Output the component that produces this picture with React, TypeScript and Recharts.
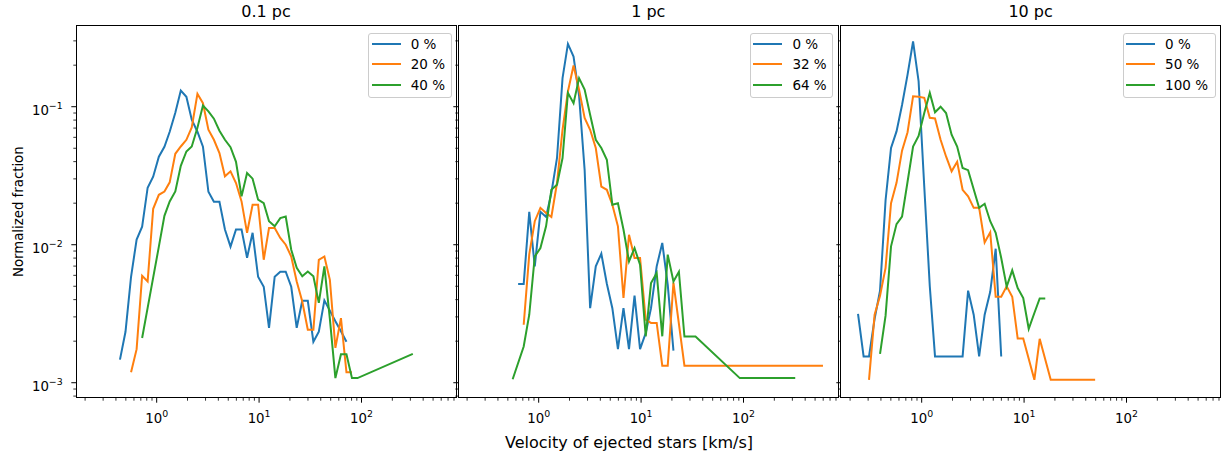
import { LineChart, Line, XAxis, YAxis, Legend } from "recharts";

const FONT = '"DejaVu Sans", sans-serif';
const COLORS = ["#1f77b4", "#ff7f0e", "#2ca02c"];

// shared log axes (sharex / sharey)
const X_DOMAIN = [0.163, 837];
const Y_DOMAIN = [7.75e-4, 0.389];
const X_TICKS = [
    0.2, 0.3, 0.4, 0.5, 0.6, 0.7, 0.8, 0.9, 1, 2, 3, 4, 5, 6, 7, 8, 9, 10,
    20, 30, 40, 50, 60, 70, 80, 90, 100, 200, 300, 400, 500, 600, 700, 800,
];
const Y_TICKS = [
    8e-4, 9e-4, 1e-3, 2e-3, 3e-3, 4e-3, 5e-3, 6e-3, 7e-3, 8e-3, 9e-3, 1e-2,
    2e-2, 3e-2, 4e-2, 5e-2, 6e-2, 7e-2, 8e-2, 9e-2, 0.1, 0.2, 0.3,
];

// 0.1 pc — bin velocities [km/s] and normalized fractions
const P1_VEL = [
    0.438, 0.496, 0.562, 0.637, 0.721, 0.816, 0.924, 1.05, 1.19, 1.34, 1.52,
    1.72, 1.95, 2.2, 2.5, 2.83, 3.2, 3.62, 4.1, 4.64, 5.26, 5.95, 6.74, 7.63,
    8.64, 9.78, 11.1, 12.5, 14.2, 16.1, 18.2, 20.6, 23.3, 26.4, 29.9, 33.9,
    38.3, 43.4, 49.1, 55.6, 63.0, 71.3, 80.7, 91.4, 317,
];
const P1_0 = [
    0.00147, 0.00234, 0.00586, 0.0109, 0.0135, 0.0259, 0.0311, 0.0434, 0.0513,
    0.0659, 0.0905, 0.131, 0.118, 0.0805, 0.0659, 0.0513, 0.0242, 0.0205,
    0.0205, 0.0129, 0.00968, 0.0129, 0.0129, 0.00805, 0.0122, 0.00586, 0.00496,
    0.0025, 0.00586, 0.00637, 0.00637, 0.00496, 0.0025, 0.00392, 0.00392,
    0.00198, 0.00234, 0.00395, 0.00333, 0.00279, 0.00236, 0.00198, null, null,
    null,
];
const P1_20 = [
    null, null, 0.00119, 0.00175, 0.00596, 0.00542, 0.0182, 0.023, 0.0243,
    0.0283, 0.0456, 0.0515, 0.0576, 0.0708, 0.124, 0.106, 0.0681, 0.0576,
    0.0462, 0.0313, 0.034, 0.028, 0.0206, 0.0122, 0.0195, 0.0195, 0.00778,
    0.0132, 0.0132, 0.0112, 0.01, 0.00822, 0.00542, 0.00388, 0.00242, 0.00242,
    0.00778, 0.00822, 0.00557, 0.00179, 0.00294, 0.00119, 0.00119, null, null,
];
const P1_40 = [
    null, null, null, null, 0.00211, 0.00349, 0.00577, 0.00968, 0.0162, 0.0206,
    0.0243, 0.0373, 0.0474, 0.0515, 0.0705, 0.102, 0.0925, 0.0819, 0.067,
    0.0576, 0.0509, 0.0399, 0.0224, 0.0331, 0.0301, 0.0212, 0.02, 0.0148,
    0.0136, 0.0156, 0.016, 0.0092, 0.0068, 0.0059, 0.0064, 0.0059, 0.00379,
    0.00696, 0.0029, 0.00108, 0.00161, 0.00161, 0.00108, 0.00108, 0.00162,
];

// 1 pc
const P2_VEL = [
    0.557, 0.63, 0.714, 0.809, 0.916, 1.04, 1.18, 1.33, 1.51, 1.71, 1.93, 2.19,
    2.48, 2.81, 3.18, 3.61, 4.09, 4.63, 5.24, 5.94, 6.73, 7.62, 8.63, 9.77,
    11.1, 12.5, 14.2, 16.1, 18.2, 20.7, 23.4, 26.5, 34.0, 92.0, 320, 597,
];
const P2_0 = [
    null, 0.00519, 0.00519, 0.0173, 0.00697, 0.0173, 0.0159, 0.0237, 0.0425,
    0.161, 0.285, 0.231, 0.12, 0.0349, 0.00347, 0.00697, 0.00861, 0.00521,
    0.00347, 0.00175, 0.00347, 0.00175, 0.00427, 0.00175, 0.00229, 0.00347,
    0.00697, 0.0103, 0.00513, 0.00171, null, null, null, null, null, null,
];
const P2_32 = [
    null, null, 0.00263, 0.0085, 0.0148, 0.0185, 0.017, 0.0159, 0.028, 0.0681,
    0.129, 0.199, 0.133, 0.0828, 0.0681, 0.0502, 0.0264, 0.025, 0.0195, 0.0136,
    0.00411, 0.0118, 0.00802, 0.00802, 0.00286, 0.00271, 0.00271, 0.00133,
    0.00133, 0.00531, null, 0.00133, null, null, null, 0.00133,
];
const P2_64 = [
    0.00106, null, 0.00183, 0.00311, 0.00822, 0.00946, 0.0136, 0.025, 0.0272,
    0.0425, 0.126, 0.106, 0.161, 0.133, 0.0875, 0.0576, 0.0502, 0.0413, 0.0195,
    0.02, 0.0129, 0.00757, 0.00946, 0.00716, 0.00217, 0.00527, 0.00623,
    0.00217, 0.00848, 0.00542, 0.00637, 0.00216, 0.00216, 0.00108, 0.00108,
    null,
];

// 10 pc
const P3_VEL = [
    0.239, 0.271, 0.306, 0.347, 0.392, 0.444, 0.502, 0.568, 0.643, 0.728,
    0.824, 0.933, 1.06, 1.2, 1.35, 1.53, 1.73, 1.96, 2.22, 2.51, 2.84, 3.22,
    3.64, 4.12, 4.67, 5.28, 5.98, 6.76, 7.66, 8.66, 9.81, 11.1, 12.6, 14.2,
    16.1, 18.2, 49.4,
];
const P3_0 = [
    0.00315, 0.00155, 0.00155, 0.0029, 0.00465, 0.021, 0.0502, 0.0662, 0.103,
    0.171, 0.297, 0.153, 0.0263, 0.005, 0.00155, 0.00155, 0.00155, 0.00155,
    0.00155, 0.00155, 0.00465, 0.00311, 0.00155, 0.00311, 0.00456, 0.00935,
    0.00155, null, null, null, null, null, null, null, null, null, null,
];
const P3_50 = [
    null, null, 0.00105, 0.00311, 0.00427, 0.0068, 0.02, 0.0281, 0.048, 0.0653,
    0.119, 0.118, 0.116, 0.0832, 0.0822, 0.0576, 0.0436, 0.034, 0.0399, 0.025,
    0.0224, 0.0185, 0.0185, 0.0104, 0.0123, 0.0042, 0.0042, 0.00499, 0.0042,
    0.00209, 0.00209, null, 0.00105, 0.00208, null, 0.00105, 0.00105,
];
const P3_100 = [
    null, null, null, null, 0.00162, 0.00306, 0.00973, 0.0141, 0.016, 0.0286,
    0.0515, 0.0614, 0.09, 0.126, 0.0912, 0.1, 0.09, 0.0627, 0.0515, 0.036,
    0.0347, 0.0252, 0.0185, 0.0198, 0.0148, 0.0122, 0.00802, 0.00497, 0.00652,
    0.00485, 0.00411, 0.00246, 0.0032, 0.00408, 0.00408, null, null,
];

const PLOT_W = 380;
const PLOT_TOP = 25.3;
const PLOT_BOTTOM = 398;
const AXIS_W = 60;

const PANELS = [
    {
        title: "0.1 pc",
        left: 76,
        vel: P1_VEL,
        series: [P1_0, P1_20, P1_40],
        labels: ["0 %", "20 %", "40 %"],
        legendLeft: 368.3,
        legendWidth: 83.4,
        yLabels: true,
    },
    {
        title: "1 pc",
        left: 458.3,
        vel: P2_VEL,
        series: [P2_0, P2_32, P2_64],
        labels: ["0 %", "32 %", "64 %"],
        legendLeft: 750,
        legendWidth: 83.3,
        yLabels: false,
    },
    {
        title: "10 pc",
        left: 840.6,
        vel: P3_VEL,
        series: [P3_0, P3_50, P3_100],
        labels: ["0 %", "50 %", "100 %"],
        legendLeft: 1122.7,
        legendWidth: 93.3,
        yLabels: false,
    },
];

const isDecade = (v: number) => {
    const lv = Math.log10(v);
    return Math.abs(lv - Math.round(lv)) < 1e-6;
};

const renderXTick = (props: any) => {
    const { x, y, payload } = props;
    const major = isDecade(payload.value);
    const e = Math.round(Math.log10(payload.value));
    return (
        <g>
            <line x1={x} x2={x} y1={y} y2={y + (major ? 4.7 : 2.7)} stroke="#000" strokeWidth={major ? 1 : 0.8} />
            {major && (
                <text x={x} y={y + 25} textAnchor="middle" fontSize={13.3} fontFamily={FONT} fill="#000">
                    10
                    <tspan fontSize={9.4} dy={-6}>
                        {e < 0 ? `\u2212${-e}` : `${e}`}
                    </tspan>
                </text>
            )}
        </g>
    );
};

const makeYTick = (showLabels: boolean) => (props: any) => {
    const { x, y, payload } = props;
    const major = isDecade(payload.value);
    const e = Math.round(Math.log10(payload.value));
    return (
        <g>
            <line x1={x - (major ? 4.7 : 2.7)} x2={x} y1={y} y2={y} stroke="#000" strokeWidth={major ? 1 : 0.8} />
            {major && showLabels && (
                <text x={x - 13.3} y={y + 8.5} textAnchor="end" fontSize={13.3} fontFamily={FONT} fill="#000">
                    10
                    <tspan fontSize={9.4} dy={-6}>
                        {e < 0 ? `\u2212${-e}` : `${e}`}
                    </tspan>
                </text>
            )}
        </g>
    );
};

const LegendBox = ({ payload }: any) => (
    <div
        style={{
            boxSizing: "border-box",
            width: "100%",
            height: 65,
            background: "rgba(255,255,255,0.8)",
            border: "1px solid #cccccc",
            borderRadius: 3,
            fontFamily: FONT,
            fontSize: 13.5,
            color: "#000",
        }}
    >
        {(payload || []).map((entry: any) => (
            <div key={entry.value} style={{ display: "flex", alignItems: "center", height: 20.5 }}>
                <span style={{ display: "block", width: 29, height: 2, marginLeft: 2.4, background: entry.color }} />
                <span style={{ marginLeft: 10, lineHeight: "20.5px", whiteSpace: "nowrap" }}>{entry.value}</span>
            </div>
        ))}
    </div>
);

function Panel({ p }: { p: (typeof PANELS)[number] }) {
    const chartLeft = p.left - AXIS_W;
    const rows = p.vel.map((v, i) => ({
        v,
        s0: p.series[0][i],
        s1: p.series[1][i],
        s2: p.series[2][i],
    }));
    return (
        <>
            <div style={{ position: "absolute", left: chartLeft, top: 0 }}>
                <LineChart
                    width={AXIS_W + PLOT_W + 10}
                    height={457}
                    data={rows}
                    margin={{ top: PLOT_TOP, right: 10, bottom: 457 - PLOT_BOTTOM - 30, left: 0 }}
                >
                    <XAxis
                        dataKey="v"
                        type="number"
                        scale="log"
                        domain={X_DOMAIN}
                        allowDataOverflow
                        ticks={X_TICKS}
                        interval={0}
                        height={30}
                        tickSize={0}
                        tickMargin={0}
                        axisLine={false}
                        tickLine={false}
                        tick={renderXTick}
                    />
                    <YAxis
                        type="number"
                        scale="log"
                        domain={Y_DOMAIN}
                        allowDataOverflow
                        ticks={Y_TICKS}
                        interval={0}
                        width={AXIS_W}
                        tickSize={0}
                        tickMargin={0}
                        axisLine={false}
                        tickLine={false}
                        tick={makeYTick(p.yLabels)}
                    />
                    <Legend
                        layout="vertical"
                        align="center"
                        verticalAlign="middle"
                        itemSorter="dataKey"
                        wrapperStyle={{ left: p.legendLeft - chartLeft, top: 32.5, width: p.legendWidth, height: 65 }}
                        content={<LegendBox />}
                    />
                    {p.labels.map((label, i) => (
                        <Line
                            key={label}
                            dataKey={`s${i}`}
                            name={label}
                            type="linear"
                            stroke={COLORS[i]}
                            strokeWidth={2}
                            dot={false}
                            activeDot={false}
                            connectNulls
                            isAnimationActive={false}
                        />
                    ))}
                </LineChart>
            </div>
            <div
                style={{
                    position: "absolute",
                    left: p.left - 0.5,
                    top: PLOT_TOP - 0.5,
                    width: PLOT_W + 1,
                    height: PLOT_BOTTOM - PLOT_TOP + 1,
                    boxSizing: "border-box",
                    border: "1px solid #000",
                    pointerEvents: "none",
                }}
            />
        </>
    );
}

export default function App() {
    return (
        <div
            style={{
                position: "absolute",
                left: 0,
                top: 0,
                width: 1221,
                height: 457,
                overflow: "hidden",
                background: "#fff",
            }}
        >
            {PANELS.map((p) => (
                <Panel key={p.title} p={p} />
            ))}
            <svg
                width={1221}
                height={457}
                style={{ position: "absolute", left: 0, top: 0, pointerEvents: "none" }}
                fontFamily={FONT}
            >
                {PANELS.map((p) => (
                    <text key={p.title} x={p.left + PLOT_W / 2} y={17} textAnchor="middle" fontSize={16} fill="#000">
                        {p.title}
                    </text>
                ))}
                <text x={629} y={448} textAnchor="middle" fontSize={16} fill="#000">
                    Velocity of ejected stars [km/s]
                </text>
                <text
                    x={23.3}
                    y={211.7}
                    transform="rotate(-90 23.3 211.7)"
                    textAnchor="middle"
                    fontSize={13.3}
                    fill="#000"
                >
                    Normalized fraction
                </text>
            </svg>
        </div>
    );
}
